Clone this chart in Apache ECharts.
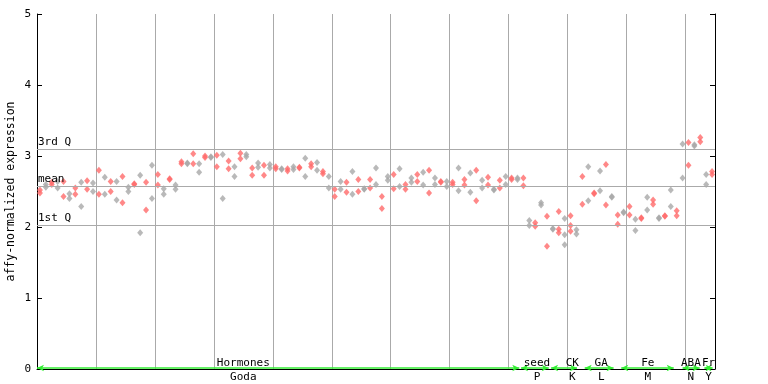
<!DOCTYPE html>
<html><head><meta charset="utf-8">
<script src="https://cdn.jsdelivr.net/npm/echarts@6/dist/echarts.min.js"></script>
<style>html,body{margin:0;padding:0;background:#fff}#c{width:768px;height:384px}</style>
</head><body><div id="c"></div>
<script>
// replicate values per sample (sample index = array index)
const rep1 = [2.52,2.60,2.63,2.64,2.64,2.47,2.55,2.63,2.65,2.62,
  2.80,2.70,2.64,2.64,2.71,2.56,2.61,2.73,2.63,2.87,
  2.74,2.54,2.68,2.59,2.92,2.90,3.03,2.89,3.00,2.99,
  3.01,3.02,2.93,2.85,3.04,3.02,2.83,2.90,2.87,2.88,
  2.85,2.82,2.82,2.85,2.84,2.97,2.89,2.91,2.78,2.71,
  2.53,2.64,2.63,2.78,2.67,2.54,2.67,2.83,2.43,2.71,
  2.74,2.82,2.60,2.69,2.74,2.77,2.80,2.69,2.64,2.64,
  2.63,2.83,2.67,2.76,2.80,2.66,2.70,2.53,2.66,2.71,
  2.69,2.69,2.69,2.09,2.06,2.34,2.15,1.98,2.22,2.12,
  2.16,1.96,2.71,2.85,2.48,2.79,2.88,2.43,2.17,2.21,
  2.29,2.11,2.13,2.42,2.38,2.13,2.16,2.52,2.23,3.17,
  3.19,3.16,3.26,2.74,2.78];
const rep2 = [2.48,2.56,2.60,2.55,2.43,2.40,2.46,2.29,2.53,2.50,
  2.46,2.46,2.50,2.38,2.34,2.50,2.60,1.92,2.24,2.40,
  2.59,2.46,2.67,2.53,2.89,2.89,2.89,2.77,2.98,2.98,
  2.85,2.40,2.82,2.71,2.96,2.99,2.73,2.84,2.73,2.83,
  2.82,2.81,2.79,2.81,2.83,2.71,2.85,2.80,2.75,2.55,
  2.43,2.53,2.49,2.46,2.50,2.53,2.55,2.60,2.26,2.66,
  2.54,2.57,2.53,2.63,2.64,2.59,2.48,2.60,2.63,2.57,
  2.60,2.51,2.59,2.49,2.37,2.55,2.59,2.52,2.55,2.60,
  2.67,2.67,2.58,2.02,2.01,2.31,1.73,1.97,1.97,1.89,
  2.02,1.90,2.32,2.37,2.47,2.51,2.31,2.42,2.04,2.20,
  2.17,1.95,2.12,2.24,2.32,2.12,2.15,2.29,2.16,2.69,
  2.87,3.14,3.20,2.60,2.74];
const rep3 = {88: 1.92, 89: 1.75, 90: 1.94};

const groupNames = ['Hormones','seed','CK','GA','Fe','ABA','Fr'];
const groupCodes = ['Goda','P','K','L','M','N','Y'];
const groupStart = [0, 82.1, 87.2, 92.9, 99.1, 109.5, 113.2];
const groupEnd   = [81.8, 86.8, 91.6, 97.8, 108.0, 112.4, 114.6];
const groupLabelAt = [35, 84.8, 90.8, 95.7, 103.6, 110.9, 113.9];

const quartileNames = ['3rd Q','mean','1st Q'];
const quartileValues = [3.09, 2.57, 2.02];

const FONT = 'DejaVu Sans Mono';
const RED = '#ff6a6a', GRAY = '#a8a8a8';

const redPts = [], grayPts = [];
function push(k, v){ (k % 2 === 0 ? redPts : grayPts).push([k + 0.5, v]); }
rep1.forEach((v,k)=>push(k,v));
rep2.forEach((v,k)=>push(k,v));
Object.keys(rep3).forEach(k=>push(+k, rep3[k]));

const chart = echarts.init(document.getElementById('c'), null, {renderer:'canvas'});
const option = {
  animation: false,
  backgroundColor: '#fff',
  grid: {left: 37, right: 53, top: 14, bottom: 15, containLabel: false, outerBoundsMode: 'none'},
  xAxis: {
    type: 'value', min: 0, max: 115, interval: 10,
    axisLine: {show: true, onZero: false, lineStyle: {color: '#000', width: 1}},
    axisTick: {show: false}, axisLabel: {show: false},
    splitLine: {show: true, lineStyle: {color: '#aaaaaa', width: 1}}
  },
  yAxis: [{
    type: 'value', min: 0, max: 5, interval: 1,
    name: 'affy-normalized expression', nameLocation: 'middle', nameGap: 20,
    nameMoveOverlap: false,
    nameTextStyle: {fontFamily: FONT, fontSize: 11.5, color: '#000'},
    axisLine: {show: true, lineStyle: {color: '#000'}},
    axisTick: {show: true, inside: true, length: 5, lineStyle: {color: '#000'}},
    axisLabel: {fontFamily: FONT, fontSize: 11, color: '#000', margin: 6},
    splitLine: {show: false}
  }, {
    type: 'value', min: 0, max: 5, interval: 1, position: 'right',
    axisLine: {show: true, lineStyle: {color: '#000'}},
    axisTick: {show: true, inside: true, length: 5, lineStyle: {color: '#000'}},
    axisLabel: {show: false}, splitLine: {show: false}
  }],
  series: [
    {
      type: 'scatter', data: [], silent: true,
      markLine: {
        silent: true, symbol: 'none', animation: false,
        lineStyle: {color: '#aaaaaa', type: 'solid', width: 1},
        label: {show: true, position: 'insideStartTop', distance: [1, 2],
          formatter: p => p.name, fontFamily: FONT, fontSize: 11, color: '#000'},
        data: quartileNames.map((n,i)=>({name: n, yAxis: quartileValues[i]}))
      }
    },
    {
      type: 'scatter', data: grayPts, symbol: 'diamond', symbolSize: [6,7],
      itemStyle: {color: GRAY}, z: 3
    },
    {
      type: 'scatter', data: redPts, symbol: 'diamond', symbolSize: [6,7],
      itemStyle: {color: RED}, z: 4
    },
    {
      type: 'scatter', data: [], silent: true, z: 6,
      markLine: {
        silent: true, animation: false, symbol: ['arrow','arrow'], symbolSize: [5,7],
        lineStyle: {color: '#33ee33', type: 'solid', width: 1.5},
        label: {show: false},
        data: groupNames.map((n,i)=>[{coord:[groupStart[i], 0.014]},{coord:[groupEnd[i], 0.014]}])
      }
    }
  ]
};
chart.setOption(option);

const g = [];
groupNames.forEach((n,i)=>{
  const p = chart.convertToPixel({xAxisIndex:0, yAxisIndex:0}, [groupLabelAt[i], 0]);
  g.push({type:'text', x: p[0], y: p[1] - 6, style:{text: n, fontFamily: FONT, fontSize: 11, fill:'#000', align:'center', verticalAlign:'middle'}, z: 10});
  g.push({type:'text', x: p[0], y: p[1] + 8, style:{text: groupCodes[i], fontFamily: FONT, fontSize: 11, fill:'#000', align:'center', verticalAlign:'middle'}, z: 10});
});
chart.setOption({graphic: g});
</script></body></html>
